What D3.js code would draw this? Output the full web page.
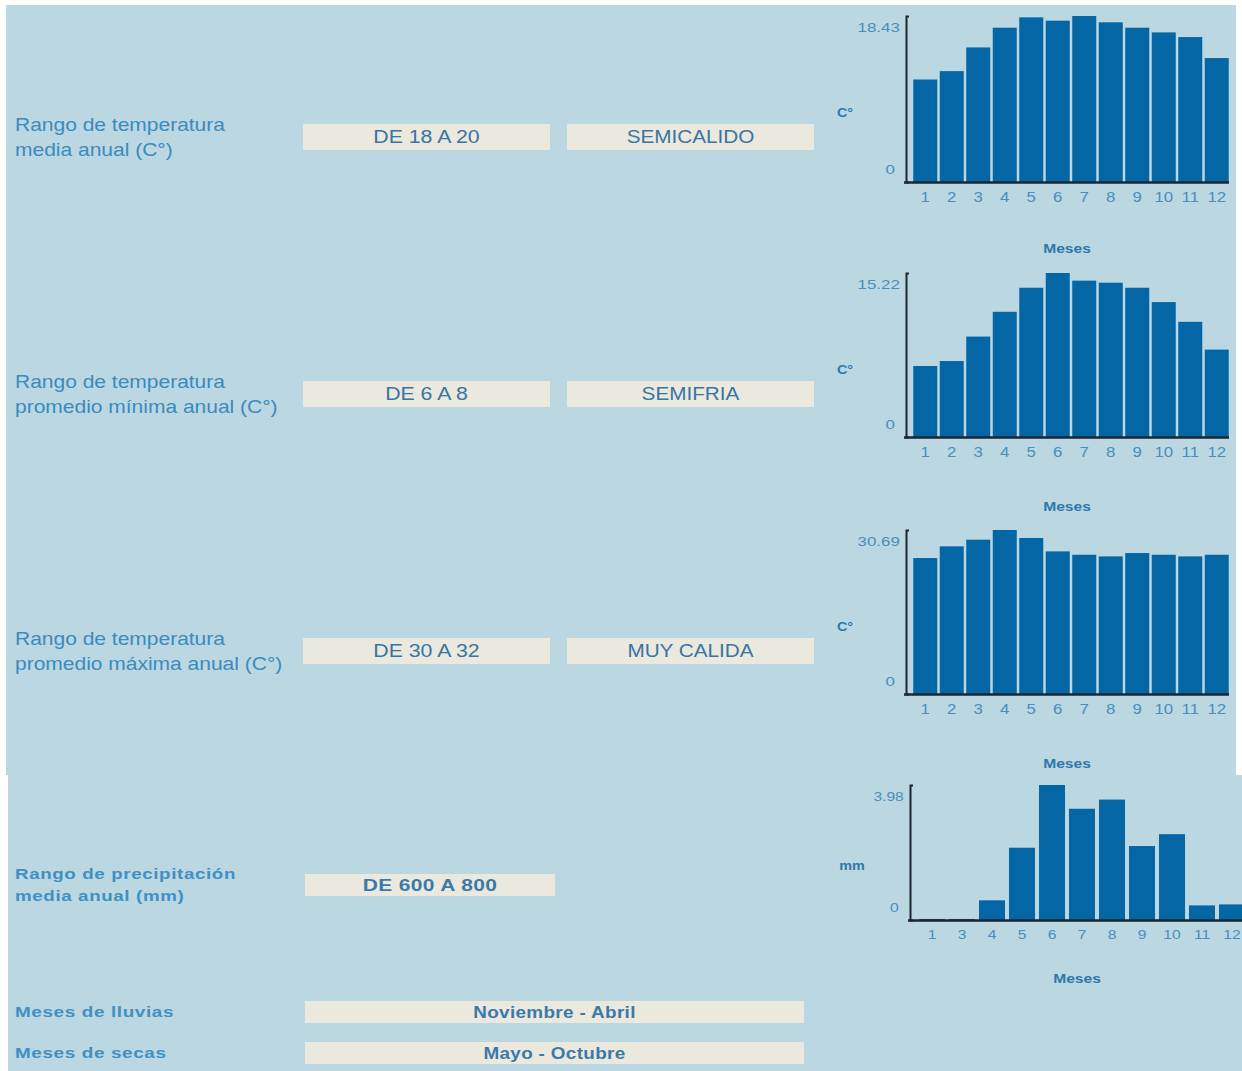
<!DOCTYPE html>
<html><head><meta charset="utf-8">
<script src="https://cdn.jsdelivr.net/npm/d3@7"></script>
<style>
html,body{margin:0;padding:0;background:#fff;}
svg{display:block;}
</style></head>
<body>
<script>
// ---------- DATA ----------
const months = ["1","2","3","4","5","6","7","8","9","10","11","12"];
const tempMedia = [11.38,12.31,14.94,17.13,18.28,17.91,18.43,17.73,17.13,16.61,16.09,13.76];
const tempMinima = [6.59,7.05,9.32,11.62,13.85,15.22,14.51,14.32,13.85,12.52,10.69,8.11];
const tempMaxima = [25.44,27.63,28.88,30.69,29.19,26.69,26.06,25.75,26.38,26.06,25.75,26.06];
const precipMonths = ["1","3","4","5","6","7","8","9","10","11","12"];
const precipitacion = [0.03,0.03,0.58,2.13,3.98,3.28,3.55,2.18,2.53,0.43,0.46];
const maxLabels = ["18.43","15.22","30.69","3.98"];
const unitLabels = ["C°","C°","C°","mm"];
const xTitle = "Meses";
const rowLabels = [
  ["Rango de temperatura","media anual (C°)"],
  ["Rango de temperatura","promedio mínima anual (C°)"],
  ["Rango de temperatura","promedio máxima anual (C°)"],
  ["Rango de precipitación","media anual (mm)"]
];
const rangeValues = ["DE 18 A 20","DE 6 A 8","DE 30 A 32","DE 600 A 800"];
const rangeClasses = ["SEMICALIDO","SEMIFRIA","MUY CALIDA"];
const seasonLabels = ["Meses de lluvias","Meses de secas"];
const seasonValues = ["Noviembre - Abril","Mayo - Octubre"];

// ---------- DRAW ----------
const W = 1242, H = 1071;
const BG = "#bbd7e1", BOX = "#ebe8de", BAR = "#0566a6", AXIS = "#1b2631";
const svg = d3.select("body").append("svg").attr("width", W).attr("height", H);
svg.append("rect").attr("width", W).attr("height", H).attr("fill", "#fff");
svg.append("rect").attr("x", 6).attr("y", 5).attr("width", 1230).attr("height", 770).attr("fill", BG);
svg.append("rect").attr("x", 8).attr("y", 775).attr("width", 1234).attr("height", 296).attr("fill", BG);

function txt(x, y, s, o) {
  o = o || {};
  const sx = o.sx || 1.2;
  return svg.append("text")
    .attr("transform", `translate(${x},${y}) scale(${sx},1)`)
    .attr("dy", "0.35em")
    .attr("text-anchor", o.anchor || "start")
    .attr("font-family", "'Liberation Sans', Arial, sans-serif")
    .attr("font-size", o.size || 17)
    .attr("font-weight", o.weight || "normal")
    .attr("letter-spacing", o.ls || 0)
    .attr("fill", o.color || "#3a8bc0")
    .text(s);
}

// left labels and boxes for rows 1-3
const rowTops = [124, 381, 638];
rowTops.forEach((t, i) => {
  txt(15, t + 1, rowLabels[i][0], {size: 17.5});
  txt(15, t + 26, rowLabels[i][1], {size: 17.5});
  svg.append("rect").attr("x", 303).attr("y", t).attr("width", 247).attr("height", 26).attr("fill", BOX);
  svg.append("rect").attr("x", 567).attr("y", t).attr("width", 247).attr("height", 26).attr("fill", BOX);
  txt(426.5, t + 13, rangeValues[i], {size: 18.5, anchor: "middle", color: "#3675a6", sx: 1.15});
  txt(690.5, t + 13, rangeClasses[i], {size: 18.5, anchor: "middle", color: "#3675a6", sx: 1.12});
});

// row 4 (precipitation)
txt(15, 874, rowLabels[3][0], {size: 15, weight: "bold", ls: 0.5, color: "#4090c4", sx: 1.25});
txt(15, 896, rowLabels[3][1], {size: 15, weight: "bold", ls: 0.5, color: "#4090c4", sx: 1.25});
svg.append("rect").attr("x", 305).attr("y", 874).attr("width", 250).attr("height", 22).attr("fill", BOX);
txt(430, 885, rangeValues[3], {size: 16.5, weight: "bold", anchor: "middle", color: "#3a7aaa", sx: 1.27, ls: 0.3});

// season rows
[1001, 1042].forEach((t, i) => {
  txt(15, t + 11, seasonLabels[i], {size: 15, weight: "bold", ls: 0.5, color: "#4090c4", sx: 1.26});
  svg.append("rect").attr("x", 305).attr("y", t).attr("width", 499).attr("height", 22).attr("fill", BOX);
  txt(554.5, t + 11, seasonValues[i], {size: 16, weight: "bold", anchor: "middle", color: "#3a7aaa", sx: 1.18, ls: 0.3});
});

// charts
function barChart(cats, vals, maxLabel, unit, G) {
  const maxV = d3.max(vals);
  const y = d3.scaleLinear().domain([0, maxV]).range([G.base, G.top]);
  const x = d3.scaleBand().domain(cats).range([G.r0, G.r1]).paddingInner(G.pad).paddingOuter(G.pad / 2);
  const g = svg.append("g");
  g.selectAll("rect.bar").data(vals).join("rect").attr("class", "bar")
    .attr("x", (d, i) => x(cats[i]))
    .attr("width", x.bandwidth())
    .attr("y", d => y(d))
    .attr("height", d => G.base - y(d))
    .attr("fill", BAR);
  // y axis
  const ya = g.append("g").attr("transform", `translate(${G.axisX},0)`)
    .call(d3.axisLeft(y).tickValues([0, maxV]).tickSizeInner(0).tickSizeOuter(-3)
      .tickFormat(v => v === 0 ? "0" : maxLabel));
  ya.select(".domain").attr("stroke", AXIS).attr("stroke-width", 2);
  ya.selectAll(".tick text")
    .attr("font-family", "'Liberation Sans', Arial, sans-serif")
    .attr("font-size", G.fs).attr("font-weight", G.fw)
    .attr("fill", "#4a8dbf")
    .attr("dy", "0.35em")
    .attr("x", v => v === 0 ? -9 : -5)
    .attr("transform", v => `translate(0,${v === 0 ? -13 : 11}) scale(1.25,1)`);
  // baseline
  g.append("line").attr("x1", G.axisX - 2).attr("x2", x.range()[1] - 1)
    .attr("y1", G.base + 0.5).attr("y2", G.base + 0.5)
    .attr("stroke", AXIS).attr("stroke-width", 2.5);
  // x axis labels
  const xa = g.append("g").attr("transform", `translate(0,${G.base})`)
    .call(d3.axisBottom(x).tickSize(0));
  xa.select(".domain").remove();
  xa.selectAll(".tick text")
    .attr("font-family", "'Liberation Sans', Arial, sans-serif")
    .attr("font-size", G.fs + 0.5).attr("font-weight", G.fw)
    .attr("fill", "#4a8dbf")
    .attr("y", 0).attr("dy", "0.35em")
    .attr("x", 0)
    .attr("transform", `translate(0,${G.tickDy}) scale(1.2,1)`);
  // unit and title
  txt(G.unitX, G.top + G.unitDy, unit, {size: 12, weight: "bold", color: "#2f78ab", sx: 1.2, anchor: "middle"});
  txt(G.titleX, G.base + G.titleDy, xTitle, {size: 13, weight: "bold", color: "#2f78ab", sx: 1.2, anchor: "middle"});
}

const G1 = {axisX: 906, top: 16, base: 182, r0: 912, r1: 1230, pad: 0.094, fs: 13.5, fw: "normal", tickDy: 15, unitX: 845, unitDy: 97, titleX: 1067, titleDy: 66};
barChart(months, tempMedia, maxLabels[0], unitLabels[0], G1);
barChart(months, tempMinima, maxLabels[1], unitLabels[1], Object.assign({}, G1, {top: 273, base: 437, titleDy: 69}));
barChart(months, tempMaxima, maxLabels[2], unitLabels[2], Object.assign({}, G1, {top: 530, base: 694, titleDy: 69}));
barChart(precipMonths, precipitacion, maxLabels[3], unitLabels[3],
  {axisX: 910, top: 785, base: 920, r0: 917, r1: 1247, pad: 0.133, fs: 12.5, fw: "normal", tickDy: 14, unitX: 852, unitDy: 81, titleX: 1077, titleDy: 58});
</script>
</body></html>
